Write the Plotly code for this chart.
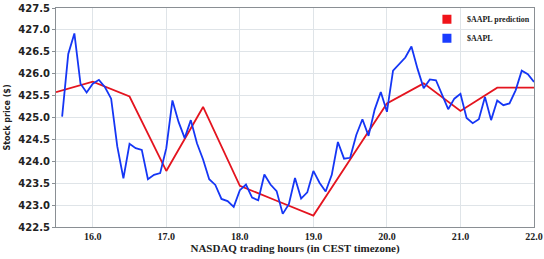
import plotly.graph_objects as go

# Prediction (every 30 min)
pred_hours = [15.5, 16.0, 16.5, 17.0, 17.5, 18.0, 18.5, 19.0, 19.5, 20.0, 20.5, 21.0, 21.5, 22.0]
pred_values = [425.58, 425.82, 425.48, 423.78, 425.24, 423.44, 423.10, 422.76, 424.04, 425.32,
               425.78, 425.15, 425.68, 425.68]

# Actual price (every 5 min from 15:35 to 22:00)
actual_values = [
    425.02, 426.45, 426.92, 425.77, 425.57, 425.77, 425.86, 425.69, 425.43, 424.34,
    423.61, 424.40, 424.30, 424.26, 423.59, 423.69, 423.73, 424.30, 425.39, 424.90,
    424.53, 424.94, 424.41, 424.04, 423.59, 423.46, 423.14, 423.09, 422.96, 423.34,
    423.47, 423.17, 423.11, 423.70, 423.47, 423.32, 422.80, 423.02, 423.62, 423.15,
    423.29, 423.78, 423.51, 423.31, 423.69, 424.44, 424.06, 424.08, 424.60, 424.96,
    424.58, 425.18, 425.58, 425.13, 426.07, 426.22, 426.37, 426.62, 426.11, 425.67,
    425.87, 425.85, 425.51, 425.19, 425.43, 425.54, 424.99, 424.87, 424.96, 425.47,
    424.94, 425.39, 425.28, 425.32, 425.62, 426.07, 425.99, 425.81,
]
actual_hours = [15 + (35 + 5 * i) / 60 for i in range(len(actual_values))]

x_ticks = [16.0, 17.0, 18.0, 19.0, 20.0, 21.0, 22.0]
x_tick_labels = ["16.0", "17.0", "18.0", "19.0", "20.0", "21.0", "22.0"]
y_ticks = [422.5, 423.0, 423.5, 424.0, 424.5, 425.0, 425.5, 426.0, 426.5, 427.0, 427.5]
y_tick_labels = [f"{v:.1f}" for v in y_ticks]

RED = "#e4141f"
BLUE = "#1536f5"

fig = go.Figure()
fig.add_trace(go.Scatter(x=pred_hours, y=pred_values, mode="lines",
                         line=dict(color=RED, width=1.8), showlegend=False,
                         legendgroup="pred", hoverinfo="skip"))
fig.add_trace(go.Scatter(x=actual_hours, y=actual_values, mode="lines",
                         line=dict(color=BLUE, width=1.8), showlegend=False,
                         legendgroup="act"))
# legend entries (square swatches)
fig.add_trace(go.Scatter(x=[None], y=[None], mode="markers", name="$AAPL prediction",
                         marker=dict(symbol="square", size=9, color="#f0141a"),
                         legendgroup="pred"))
fig.add_trace(go.Scatter(x=[None], y=[None], mode="markers", name="$AAPL",
                         marker=dict(symbol="square", size=9, color="#1a3cff"),
                         legendgroup="act"))

axis_common = dict(showline=True, linecolor="#8a8f94", linewidth=1, mirror=True,
                   showgrid=True, gridcolor="#dfe4e8", gridwidth=1, zeroline=False,
                   automargin=False)

fig.update_xaxes(range=[15.5, 22.0], tickvals=x_ticks, ticktext=x_tick_labels,
                 tickfont=dict(family="Liberation Serif", size=10, color="#222", weight="bold"),
                 title=dict(text="NASDAQ trading hours (in CEST timezone)",
                            font=dict(family="Liberation Serif", size=11, color="#222",
                                      weight="bold"),
                            standoff=0),
                 ticks="", **axis_common)
fig.update_yaxes(range=[422.5, 427.5], tickvals=y_ticks, ticktext=y_tick_labels,
                 tickfont=dict(family="DejaVu Sans", size=10, color="#222", weight="bold"),
                 title=dict(text="Stock price ($)",
                            font=dict(family="DejaVu Sans", size=8, color="#222",
                                      weight="bold"),
                            standoff=6),
                 ticks="outside", ticklen=3, tickcolor="#8a8f94", **axis_common)

fig.update_layout(
    width=544, height=259,
    margin=dict(l=56, r=10, t=5, b=32),
    plot_bgcolor="white", paper_bgcolor="white",
    legend=dict(x=0.776, xanchor="left", y=1.015, yanchor="top",
                bgcolor="rgba(255,255,255,0)", borderwidth=0,
                font=dict(family="Liberation Serif", size=8, color="#222", weight="bold"),
                tracegroupgap=0, itemwidth=30),
)

fig.write_html("out.html", config={"displayModeBar": False},
               post_script="document.body.style.margin='0';")
